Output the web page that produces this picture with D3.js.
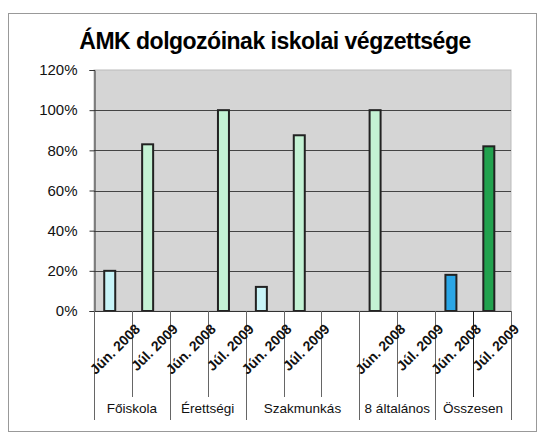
<!DOCTYPE html>
<html>
<head>
<meta charset="utf-8">
<script src="https://cdn.jsdelivr.net/npm/d3@7"></script>
<style>
  body { margin: 0; background: #fff; }
  svg { display: block; font-family: "Liberation Sans", Arial, sans-serif; }
</style>
</head>
<body>
<div id="chart"></div>
<script>
// adatok
const groups = ['Főiskola', 'Érettségi', 'Szakmunkás', '8 általános', 'Összesen'];
const slotGroup = [0, 0, 1, 1, 2, 2, 2, 3, 3, 4, 4];
const slotLabels = ['Jún. 2008', 'Júl. 2009', 'Jún. 2008', 'Júl. 2009', 'Jún. 2008', 'Júl. 2009', '',
                    'Jún. 2008', 'Júl. 2009', 'Jún. 2008', 'Júl. 2009'];
const values = [0.20, 0.83, null, 1.00, 0.12, 0.875, null, 1.00, null, 0.18, 0.82];
const yTicks = [0, 0.2, 0.4, 0.6, 0.8, 1.0, 1.2];

const barColors = ['#c8f4f8', '#c4f2d4', '#c4f2d4', '#c4f2d4', '#c8f4f8', '#c4f2d4', '#c4f2d4',
                   '#c4f2d4', '#c4f2d4', '#2aa6e6', '#22a24e'];

const W = 544, H = 434;
const plot = {left: 94, right: 511, top: 70, bottom: 311};

const svg = d3.select('#chart').append('svg')
    .attr('width', W)
    .attr('height', H);

// keret
svg.append('rect')
    .attr('x', 8.5).attr('y', 13.5)
    .attr('width', 528).attr('height', 418)
    .attr('fill', 'none')
    .attr('stroke', '#999');

svg.append('text')
    .attr('x', 275).attr('y', 49)
    .attr('text-anchor', 'middle')
    .attr('font-size', 23)
    .attr('font-weight', 'bold')
    .attr('letter-spacing', -0.5)
    .text('ÁMK dolgozóinak iskolai végzettsége');

const slots = d3.range(values.length);
const x = d3.scaleBand()
    .domain(slots)
    .range([plot.left, plot.right]);

const y = d3.scaleLinear()
    .domain([0, 1.2])
    .range([plot.bottom, plot.top]);

// rajzterület
svg.append('rect')
    .attr('x', plot.left).attr('y', plot.top)
    .attr('width', plot.right - plot.left)
    .attr('height', plot.bottom - plot.top)
    .attr('fill', '#d5d5d5')
    .attr('stroke', '#bbb');

svg.append('g')
    .selectAll('line')
    .data(yTicks.filter(d => d > 0 && d < 1.2))
    .join('line')
    .attr('x1', plot.left).attr('x2', plot.right)
    .attr('y1', d => Math.round(y(d)) + 0.5)
    .attr('y2', d => Math.round(y(d)) + 0.5)
    .attr('stroke', '#444');

// y tengely
const yAxis = d3.axisLeft(y)
    .tickValues(yTicks)
    .tickFormat(d3.format('.0%'))
    .tickSize(5)
    .tickPadding(12);

const yg = svg.append('g')
    .attr('transform', `translate(${plot.left + 0.5},0)`)
    .call(yAxis);
yg.select('.domain').attr('stroke', '#333');
yg.selectAll('.tick line').attr('stroke', '#333');
yg.selectAll('.tick text')
    .attr('font-size', 15)
    .attr('font-family', '"Liberation Sans", Arial, sans-serif')
    .attr('fill', '#111');

// oszlopok
svg.append('g')
    .selectAll('rect')
    .data(slots.filter(i => values[i] != null))
    .join('rect')
    .attr('x', i => x(i) + x.bandwidth() * 0.27)
    .attr('width', x.bandwidth() * 0.29)
    .attr('y', i => y(values[i]))
    .attr('height', i => y(0) - y(values[i]))
    .attr('fill', i => barColors[i])
    .attr('stroke', '#222')
    .attr('stroke-width', 2);

// x tengely
svg.append('line')
    .attr('x1', plot.left).attr('x2', plot.right)
    .attr('y1', plot.bottom + 0.5).attr('y2', plot.bottom + 0.5)
    .attr('stroke', '#333');

const boundaries = d3.range(values.length + 1);
svg.append('g')
    .selectAll('line')
    .data(boundaries)
    .join('line')
    .attr('x1', i => Math.round(i < values.length ? x(i) : plot.right) + 0.5)
    .attr('x2', i => Math.round(i < values.length ? x(i) : plot.right) + 0.5)
    .attr('y1', plot.bottom)
    .attr('y2', i => {
        const isGroupEdge = i === 0 || i === values.length || slotGroup[i] !== slotGroup[i - 1];
        return isGroupEdge ? 420 : 397;
    })
    .attr('stroke', i => i === 10 ? '#222' : '#666');

svg.append('g')
    .selectAll('text')
    .data(slots.filter(i => slotLabels[i]))
    .join('text')
    .attr('transform', i => `translate(${x(i) + x.bandwidth() / 2 + 28},${plot.bottom + 19}) rotate(-45)`)
    .attr('text-anchor', 'end')
    .attr('font-size', 14)
    .attr('font-weight', 'bold')
    .attr('fill', '#111')
    .text(i => slotLabels[i]);

// csoportcímkék
svg.append('g')
    .selectAll('text')
    .data(groups)
    .join('text')
    .attr('x', (d, gi) => {
        const s = slots.filter(i => slotGroup[i] === gi);
        return (x(s[0]) + x(s[s.length - 1]) + x.bandwidth()) / 2;
    })
    .attr('y', 413)
    .attr('text-anchor', 'middle')
    .attr('font-size', 13.5)
    .attr('fill', '#111')
    .text(d => d);
</script>
</body>
</html>
